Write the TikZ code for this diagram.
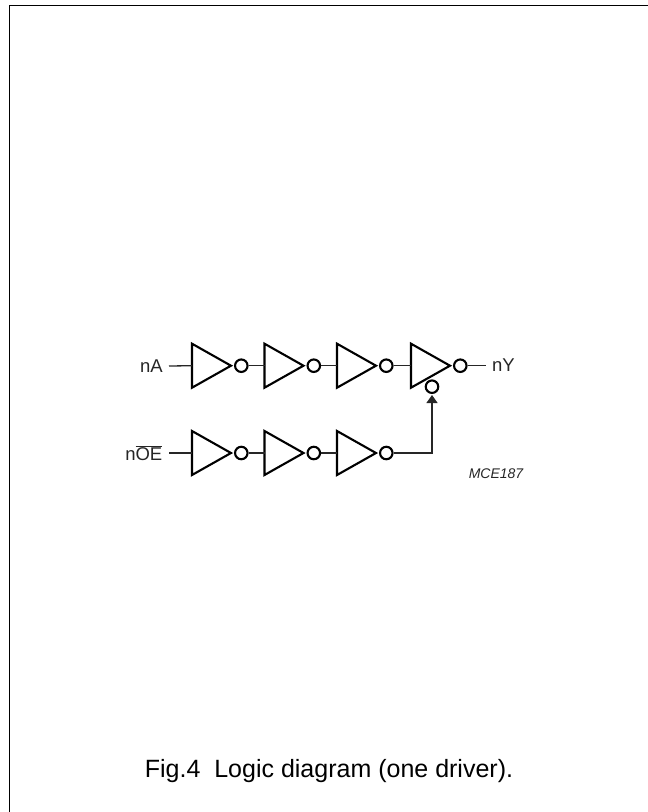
\documentclass[tikz,border=0pt]{standalone}
\usepackage{fontspec}
\setmainfont{Liberation Sans}
\usetikzlibrary{arrows.meta}
\tikzset{
  gate/.style={draw=black,line width=2.1pt,line join=miter},
  bubble/.style={circle,draw=black,line width=2.1pt,minimum size=12.5pt,inner sep=0pt},
  wire/.style={draw=black!85,line width=1.3pt},
  lbl/.style={inner sep=0pt,font=\fontsize{18.5pt}{22pt}\selectfont,text=black!85},
  frameline/.style={draw=black,line width=1.8pt}
}
% \invgate{name}{left x}{y}: triangle with bubble; name-in = input point, name = bubble node
\newcommand{\invgate}[3]{%
  \coordinate (#1-in) at (#2,#3);
  \draw[gate] (#2,#3-22) -- (#2+39,#3) -- (#2,#3+22) -- cycle;
  \node[bubble] (#1) at (#2+49.3,#3) {};
}
\begin{document}
\begin{tikzpicture}[x=1pt,y=-1pt]
\useasboundingbox (0,0) rectangle (648,812);
\coordinate (fbl) at (9.5,812);
\coordinate (ftl) at (9.5,5.5);
\coordinate (ftr) at (648,5.5);
\draw[frameline] (fbl) -- (ftl) -- (ftr);

\invgate{a1}{192}{365.7}
\invgate{a2}{264.5}{365.7}
\invgate{a3}{337}{365.7}
\invgate{a4}{411}{365.7}
\invgate{b1}{192}{453}
\invgate{b2}{264.5}{453}
\invgate{b3}{337}{453}
\node[bubble] (en) at (432,386.7) {};

\node[lbl,anchor=east] (nA) at (163,366) {nA};
\node[lbl,anchor=east] (nOE) at (162.5,453) {n$\overline{\mbox{OE}}$};
\node[lbl,anchor=west] (nY) at (492,365) {nY};
\node[inner sep=0pt,font=\fontsize{14pt}{16pt}\selectfont\itshape,text=black!85] (code) at (496,474) {MCE187};
\node[inner sep=0pt,anchor=base,font=\fontsize{25pt}{30pt}\selectfont,text=black] (cap) at (329,777) {Fig.4\ \ Logic diagram (one driver).};

\draw[wire] (nA.east) ++(6,0) coordinate (ia) -- (a1-in);
\draw[wire] (nOE.east) ++(6.5,0) coordinate (ib) -- (b1-in);
\draw[wire] (a1) -- (a2-in);
\draw[wire] (a2) -- (a3-in);
\draw[wire] (a3) -- (a4-in);
\coordinate (yend) at (486,365.7);
\draw[wire] (a4) -- (yend);
\draw[wire] (b1) -- (b2-in);
\draw[wire] (b2) -- (b3-in);
\coordinate (tip) at (432,395);
\draw[wire,-{Triangle[length=8pt,width=11pt]}] (b3) -| (tip);
\end{tikzpicture}
\end{document}
